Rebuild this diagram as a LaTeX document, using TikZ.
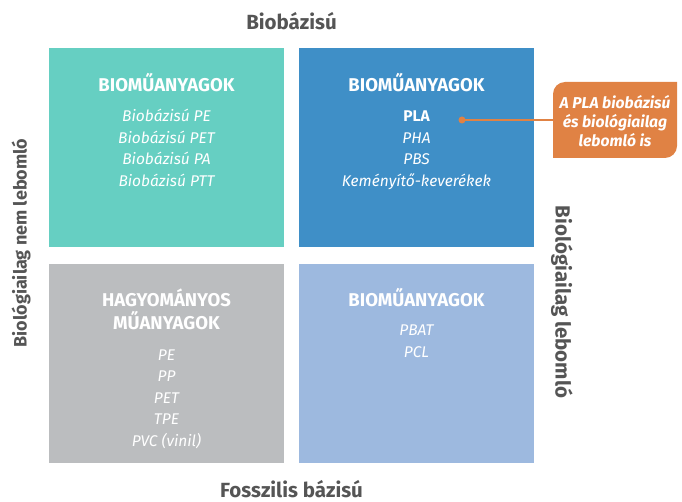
\documentclass[tikz,border=0pt]{standalone}
\usepackage{fontspec}
\setmainfont{Fira Sans}
\definecolor{cteal}{HTML}{66CFC2}
\definecolor{cblue}{HTML}{3F8FC7}
\definecolor{cgrey}{HTML}{BBBDBF}
\definecolor{clight}{HTML}{9DB9DF}
\definecolor{corange}{HTML}{E08244}
\definecolor{caxis}{HTML}{555555}
\begin{document}
\begin{tikzpicture}[x=1pt,y=-1pt,
  quad/.style={rectangle,inner sep=0pt,minimum width=235pt,minimum height=199pt,anchor=north west},
  head/.style={anchor=base,inner sep=0pt,text=white,font=\fontsize{18.5}{20}\selectfont\bfseries},
  item/.style={anchor=base,inner sep=0pt,text=white,font=\fontsize{15.5}{20}\selectfont\itshape},
  axis/.style={inner sep=0pt,text=caxis,font=\fontsize{20.5}{22}\selectfont\bfseries},
  callouttext/.style={inner sep=0pt,align=center,text=white,font=\fontsize{15.7}{19}\selectfont\bfseries\itshape}]
\useasboundingbox (0,0) rectangle (682,502);
% quadrants
\node[quad,fill=cteal] (q1) at (49,48) {};
\node[quad,fill=cblue] (q2) at (299,48) {};
\node[quad,fill=cgrey] (q3) at (49,264) {};
\node[quad,fill=clight] (q4) at (299,264) {};
% top left
\node[head] (h1) at (166.5,92) {BIOMŰANYAGOK};
\node[item] (a1) at (166.5,122) {Biobázisú PE};
\node[item] (a2) at (166.5,143.5) {Biobázisú PET};
\node[item] (a3) at (166.5,165) {Biobázisú PA};
\node[item] (a4) at (166.5,186.5) {Biobázisú PTT};
% top right
\node[head] (h2) at (416.5,92) {BIOMŰANYAGOK};
\node[item,font=\fontsize{15.5}{20}\selectfont\bfseries] (b1) at (416.5,122) {PLA};
\node[item] (b2) at (416.5,143.5) {PHA};
\node[item] (b3) at (416.5,165) {PBS};
\node[item] (b4) at (416.5,186.5) {Keményítő-keverékek};
% bottom left
\node[head] (h3) at (166.5,307) {HAGYOMÁNYOS};
\node[head] (h3b) at (166.5,330) {MŰANYAGOK};
\node[item] (c1) at (166.5,360) {PE};
\node[item] (c2) at (166.5,381.5) {PP};
\node[item] (c3) at (166.5,403) {PET};
\node[item] (c4) at (166.5,424.5) {TPE};
\node[item] (c5) at (166.5,446) {PVC (vinil)};
% bottom right
\node[head] (h4) at (416.5,307) {BIOMŰANYAGOK};
\node[item] (d1) at (416.5,335) {PBAT};
\node[item] (d2) at (416.5,357) {PCL};
% axes
\node[axis] (top) at (291.5,21) {Biobázisú};
\node[axis] (bottom) at (291.5,489) {Fosszilis bázisú};
\node[axis,rotate=90,font=\fontsize{18}{22}\selectfont\bfseries] (left) at (21,243) {Biológiailag nem lebomló};
\node[axis,rotate=-90] (right) at (562,302) {Biológiailag lebomló};
% callout
\fill[corange] (553,158) -- (553,94) .. controls (553,87.4) and (558.4,82) .. (565,82)
  -- (677,82) -- (677,146) .. controls (677,152.6) and (671.6,158) .. (665,158) -- cycle;
\node[callouttext] (callout) at (615,121) {A PLA biobázisú\\és biológiailag\\lebomló is};
\coordinate (calledge) at (553,120);
\node[circle,fill=corange,inner sep=0pt,minimum size=7pt] (dot) at (462,120) {};
\draw[corange,line width=2pt] (dot.center) -- (calledge);
\end{tikzpicture}
\end{document}
